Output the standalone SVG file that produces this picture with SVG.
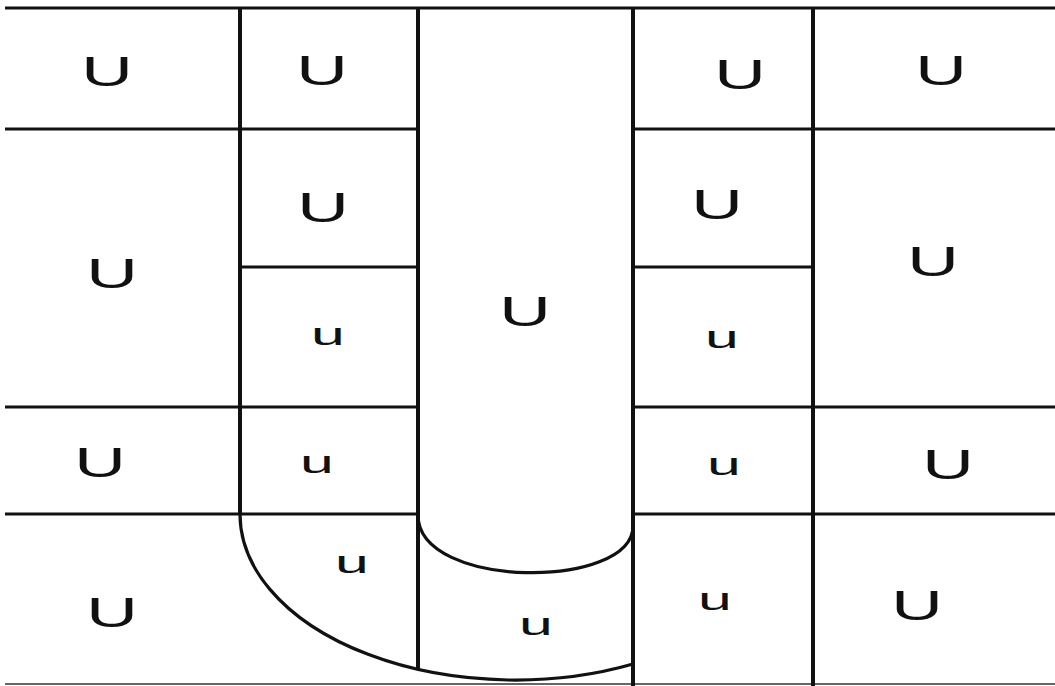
<svg xmlns="http://www.w3.org/2000/svg" width="1055" height="686" viewBox="0 0 1055 686">
<style>
.bg{fill:#ffffff}
.h{stroke:#111;stroke-width:3;fill:none}
.v{stroke:#111;stroke-width:4;fill:none}
.arc{stroke:#111;stroke-width:3.2;fill:none}
.base{stroke:#666;stroke-width:2;fill:none}
.U{font-family:"Liberation Sans",Arial,sans-serif;font-size:42px;fill:#111;text-anchor:middle}
.u{font-family:"Liberation Sans",Arial,sans-serif;font-size:32px;fill:#111;text-anchor:middle}
</style>
<rect class="bg" x="0" y="0" width="1055" height="686"/>
<g id="connectors">
  <line class="h" x1="5" y1="8" x2="1055" y2="8"/>
  <line class="h" x1="5" y1="129" x2="418" y2="129"/>
  <line class="h" x1="633" y1="129" x2="1055" y2="129"/>
  <line class="h" x1="240" y1="267" x2="418" y2="267"/>
  <line class="h" x1="633" y1="267" x2="813" y2="267"/>
  <line class="h" x1="5" y1="407" x2="418" y2="407"/>
  <line class="h" x1="633" y1="407" x2="1055" y2="407"/>
  <line class="h" x1="5" y1="514" x2="418" y2="514"/>
  <line class="h" x1="633" y1="514" x2="1055" y2="514"/>
  <line class="base" x1="5" y1="684" x2="1055" y2="684"/>
  <line class="v" x1="240" y1="7" x2="240" y2="514"/>
  <line class="v" x1="418" y1="7" x2="418" y2="669"/>
  <line class="v" x1="633" y1="7" x2="633" y2="686"/>
  <line class="v" x1="813" y1="7" x2="813" y2="686"/>
  <path class="arc" d="M240,514 A275,166 0 0 0 633,664"/>
  <path class="arc" d="M418,515 C418,590 633,590 633,526"/>
</g>
<g id="c1r1"><text class="U" transform="translate(107,86) scale(1.7,1)">U</text></g>
<g id="c2r1"><text class="U" transform="translate(322,85) scale(1.7,1)">U</text></g>
<g id="c4r1"><text class="U" transform="translate(740,89) scale(1.7,1)">U</text></g>
<g id="c5r1"><text class="U" transform="translate(941,85) scale(1.7,1)">U</text></g>
<g id="c1r2"><text class="U" transform="translate(112,288) scale(1.7,1)">U</text></g>
<g id="c2r2"><text class="U" transform="translate(323,222) scale(1.7,1)">U</text></g>
<g id="c2r3"><text class="u" transform="translate(328,345) scale(1.9,1)">u</text></g>
<g id="mid"><text class="U" transform="translate(525,326) scale(1.7,1)">U</text></g>
<g id="c4r2"><text class="U" transform="translate(717,219) scale(1.7,1)">U</text></g>
<g id="c4r3"><text class="u" transform="translate(722,348) scale(1.9,1)">u</text></g>
<g id="c5r2"><text class="U" transform="translate(933,276) scale(1.7,1)">U</text></g>
<g id="c1r4"><text class="U" transform="translate(100,477) scale(1.7,1)">U</text></g>
<g id="c2r4"><text class="u" transform="translate(317,473) scale(1.9,1)">u</text></g>
<g id="c4r4"><text class="u" transform="translate(724,475) scale(1.9,1)">u</text></g>
<g id="c5r4"><text class="U" transform="translate(948,479) scale(1.7,1)">U</text></g>
<g id="c1r5"><text class="U" transform="translate(112,627) scale(1.7,1)">U</text></g>
<g id="c2r5"><text class="u" transform="translate(352,573) scale(1.9,1)">u</text></g>
<g id="midbottom"><text class="u" transform="translate(536,635) scale(1.9,1)">u</text></g>
<g id="c4r5"><text class="u" transform="translate(715,610) scale(1.9,1)">u</text></g>
<g id="c5r5"><text class="U" transform="translate(917,620) scale(1.7,1)">U</text></g>
</svg>
